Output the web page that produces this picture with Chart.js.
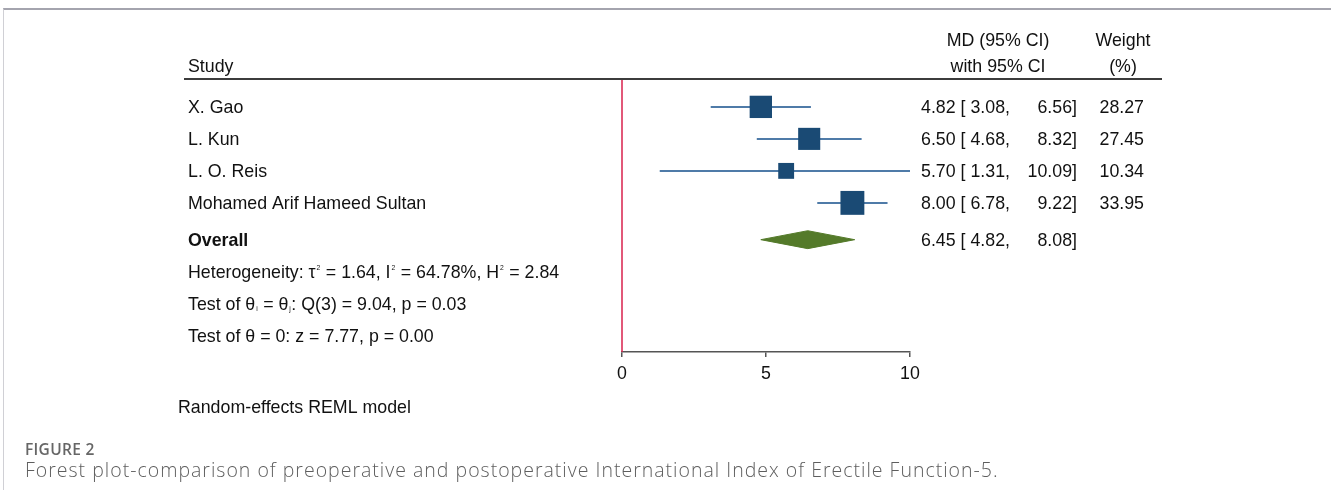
<!DOCTYPE html>
<html>
<head>
<meta charset="utf-8">
<script src="https://cdn.jsdelivr.net/npm/chart.js@4.4.1/dist/chart.umd.min.js"></script>
<style>
  html, body { margin: 0; padding: 0; background: #fff; width: 1331px; height: 490px; overflow: hidden; }
  #frame { position: absolute; left: 3px; top: 8px; right: 0; bottom: -2px; border-top: 2px solid #a4a4ae; border-left: 1px solid #d0d0d5; }
  #wrap { position: absolute; left: 0; top: 0; width: 1331px; height: 490px; }
  .fig { position: absolute; left: 25px; font-family: "Open Sans", sans-serif; color: #666; white-space: nowrap; }
  #figno { top: 438px; font-size: 15.5px; font-weight: 600; letter-spacing: 0.3px; }
  #figcap { top: 456px; font-size: 19.5px; font-weight: 300; letter-spacing: 1px; color: #5e5e5e; }
</style>
</head>
<body>
<div id="frame"></div>
<div id="wrap"><canvas id="forest" width="1331" height="490"></canvas></div>
<div class="fig" id="figno">FIGURE 2</div>
<div class="fig" id="figcap">Forest plot-comparison of preoperative and postoperative International Index of Erectile Function-5.</div>
<script>
// Study-level mean differences (MD) with 95% confidence intervals and weights
const studies = ['X. Gao', 'L. Kun', 'L. O. Reis', 'Mohamed Arif Hameed Sultan'];
const md = [4.82, 6.50, 5.70, 8.00];
const ciLow = [3.08, 4.68, 1.31, 6.78];
const ciHigh = [6.56, 8.32, 10.09, 9.22];
const weights = [28.27, 27.45, 10.34, 33.95];

// Pooled random-effects estimate: [MD, lower, upper]
const overallEst = [6.45, 4.82, 8.08];

const xTicks = [0, 5, 10];

// Summary statistics lines (strings are plain text, {t, sup|sub} are small scripts)
const statLines = [
  ['Heterogeneity: τ', {t: '2', sup: true}, ' = 1.64, I', {t: '2', sup: true}, ' = 64.78%, H', {t: '2', sup: true}, ' = 2.84'],
  ['Test of θ', {t: 'i', sub: true}, ' = θ', {t: 'j', sub: true}, ': Q(3) = 9.04, p = 0.03'],
  ['Test of θ = 0: z = 7.77, p = 0.00']
];

const FONT = '"Liberation Sans", Arial, Helvetica, sans-serif';
const FS = 17.8;
const TEXT = '#111';
const SQUARE = '#1a4a74';
const CI_LINE = '#4f7ba8';
const DIAMOND = '#547a2a';
const NULL_LINE = '#d8214c';

const overallRow = studies.length + 0.15;   // small extra gap before the pooled row
const diamondHalf = 0.28;                   // half-height of the pooled diamond, in rows

// Square side grows with study weight
const sideFor = w => 6 + 3.07 * Math.sqrt(w);

const datasets = [];
// weighted squares (on top)
datasets.push({
  label: 'MD',
  data: md.map((m, i) => ({x: m, y: i})),
  pointStyle: 'rect',
  pointRadius: weights.map(w => sideFor(w) / Math.SQRT2),
  pointHoverRadius: weights.map(w => sideFor(w) / Math.SQRT2),
  backgroundColor: SQUARE,
  borderColor: SQUARE,
  borderWidth: 0,
  showLine: false,
  order: 0
});
// confidence interval whiskers
studies.forEach((s, i) => {
  datasets.push({
    label: s,
    data: [{x: ciLow[i], y: i}, {x: ciHigh[i], y: i}],
    showLine: true,
    borderColor: CI_LINE,
    borderWidth: 2,
    pointRadius: 0,
    order: 1
  });
});
// pooled estimate diamond
datasets.push({
  label: 'Overall',
  data: [
    {x: overallEst[1], y: overallRow},
    {x: overallEst[0], y: overallRow - diamondHalf},
    {x: overallEst[2], y: overallRow},
    {x: overallEst[0], y: overallRow + diamondHalf},
    {x: overallEst[1], y: overallRow}
  ],
  showLine: true,
  fill: 'shape',
  backgroundColor: DIAMOND,
  borderColor: DIAMOND,
  borderWidth: 1,
  pointRadius: 0,
  tension: 0,
  order: 1
});

function richText(ctx, parts, x, y, size) {
  let cx = x;
  for (const p of parts) {
    if (typeof p === 'string') {
      ctx.font = `${size}px ${FONT}`;
      ctx.fillText(p, cx, y);
      cx += ctx.measureText(p).width;
    } else {
      ctx.font = `${size * 0.38}px ${FONT}`;
      const dy = p.sup ? -size * 0.45 : size * 0.08;
      ctx.fillText(p.t, cx + 1, y + dy);
      cx += ctx.measureText(p.t).width + 1.5;
    }
  }
}

const forestText = {
  id: 'forestText',
  beforeDatasetsDraw(chart) {
    const {ctx, chartArea, scales: {x}} = chart;
    ctx.save();
    // null-effect line at MD = 0
    const x0 = x.getPixelForValue(0);
    ctx.strokeStyle = NULL_LINE;
    ctx.lineWidth = 1.5;
    ctx.beginPath();
    ctx.moveTo(x0, chartArea.top);
    ctx.lineTo(x0, chartArea.bottom);
    ctx.stroke();
    ctx.restore();
  },
  afterDraw(chart) {
    const {ctx, chartArea, scales: {y}} = chart;
    const top = chartArea.top;
    ctx.save();
    ctx.fillStyle = TEXT;
    ctx.textBaseline = 'alphabetic';
    const base = v => y.getPixelForValue(v) + 6;

    // column headers
    ctx.font = `${FS}px ${FONT}`;
    ctx.textAlign = 'left';
    ctx.fillText('Study', 188, top - 8);
    ctx.textAlign = 'center';
    ctx.fillText('MD (95% CI)', 998, top - 34);
    ctx.fillText('with 95% CI', 998, top - 8);
    ctx.fillText('Weight', 1123, top - 34);
    ctx.fillText('(%)', 1123, top - 8);

    // header rule
    ctx.strokeStyle = '#3c3c3c';
    ctx.lineWidth = 2;
    ctx.beginPath();
    ctx.moveTo(184, top - 1);
    ctx.lineTo(1162, top - 1);
    ctx.stroke();

    // study rows
    studies.forEach((s, i) => {
      const b = base(i);
      ctx.textAlign = 'left';
      ctx.fillText(s, 188, b);
      ctx.fillText(`${md[i].toFixed(2)} [ ${ciLow[i].toFixed(2)},`, 921, b);
      ctx.textAlign = 'right';
      ctx.fillText(`${ciHigh[i].toFixed(2)}]`, 1077, b);
      ctx.fillText(weights[i].toFixed(2), 1144, b);
    });

    // pooled row
    const bo = base(overallRow);
    ctx.textAlign = 'left';
    ctx.font = `bold ${FS}px ${FONT}`;
    ctx.fillText('Overall', 188, bo);
    ctx.font = `${FS}px ${FONT}`;
    ctx.fillText(`${overallEst[0].toFixed(2)} [ ${overallEst[1].toFixed(2)},`, 921, bo);
    ctx.textAlign = 'right';
    ctx.fillText(`${overallEst[2].toFixed(2)}]`, 1077, bo);

    // heterogeneity and tests
    ctx.textAlign = 'left';
    statLines.forEach((parts, k) => {
      richText(ctx, parts, 188, base(overallRow + 1 + k), FS);
    });

    ctx.font = `${FS}px ${FONT}`;
    ctx.fillText('Random-effects REML model', 178, 413);
    ctx.restore();
  }
};

new Chart(document.getElementById('forest'), {
  type: 'scatter',
  data: {datasets},
  plugins: [forestText],
  options: {
    responsive: false,
    animation: false,
    events: [],
    layout: {padding: {left: 622, right: 421, top: 80, bottom: 108}},
    plugins: {legend: {display: false}, tooltip: {enabled: false}},
    scales: {
      x: {
        type: 'linear',
        min: xTicks[0],
        max: xTicks[xTicks.length - 1],
        afterBuildTicks: s => { s.ticks = xTicks.map(v => ({value: v})); },
        afterFit: s => { s.height = 30; },
        ticks: {color: TEXT, font: {family: FONT, size: FS}, padding: 6, maxRotation: 0},
        grid: {drawOnChartArea: false, drawTicks: true, tickLength: 5, color: '#555', lineWidth: 1.5},
        border: {display: true, color: '#555', width: 1.5}
      },
      y: {
        type: 'linear',
        reverse: true,
        min: -0.84,
        max: 7.66,
        display: false
      }
    }
  }
});
</script>
</body>
</html>
